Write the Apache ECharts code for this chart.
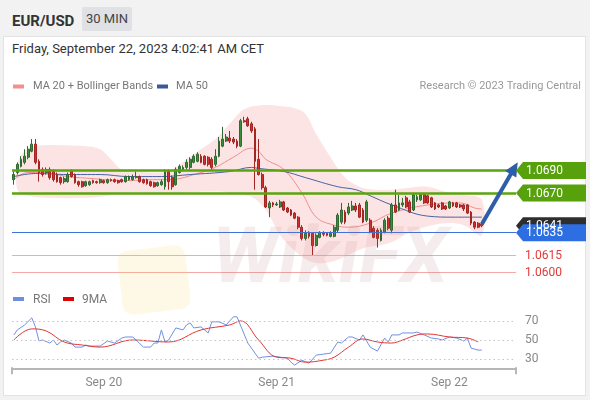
<!DOCTYPE html>
<html>
<head>
<meta charset="utf-8">
<script src="https://cdn.jsdelivr.net/npm/echarts@6/dist/echarts.min.js"></script>
<style>
  html,body{margin:0;padding:0;}
  body{width:590px;height:400px;overflow:hidden;position:relative;background:#f2f2f2;font-family:Roboto,'Liberation Sans',Arial,sans-serif;}
  #card{position:absolute;left:3px;top:36px;width:583px;height:360px;background:#fff;border:1px solid #e4e4e4;box-sizing:border-box;}
  #pair{position:absolute;left:12px;top:11px;font-size:15px;font-weight:bold;color:#333;line-height:20px;}
  #tf{position:absolute;left:82px;top:7px;width:50px;height:24px;background:#dfe1e4;color:#444;font-size:13px;line-height:24px;text-align:center;border-radius:2px;}
  #date{position:absolute;left:12px;top:40px;font-size:13px;color:#333;line-height:18px;}
  #chart{position:absolute;left:0;top:0;width:590px;height:400px;}
</style>
</head>
<body>
<div id="card"></div>
<div id="pair">EUR/USD</div>
<div id="tf">30 MIN</div>
<div id="date">Friday, September 22, 2023 4:02:41 AM CET</div>
<div id="chart"></div>
<script>
// ---------- data ----------
const startTime = Date.UTC(2023, 8, 19, 11, 30);
const slotCount = 140;
const categories = [];
for (let i = 0; i < slotCount; i++) {
  const d = new Date(startTime + i * 30 * 60000);
  categories.push(d.toISOString().slice(0, 16).replace('T', ' '));
}
const dayLabels = ['Sep 20', 'Sep 21', 'Sep 22'];
const dayLabelIndex = [25, 73, 121];

// [open, close, low, high]
const ohlc = [
[1.06819,1.06864,1.06774,1.06891],[1.06882,1.06954,1.06864,1.06972],[1.06936,1.06999,1.06927,1.07026],[1.06972,1.07026,1.06954,1.07088],
[1.07017,1.07088,1.06999,1.07115],[1.07070,1.07133,1.07061,1.07178],[1.07133,1.06972,1.06954,1.07178],[1.06981,1.06882,1.06801,1.06999],
[1.06909,1.06864,1.06846,1.06927],[1.06882,1.06909,1.06864,1.06927],[1.06909,1.06837,1.06819,1.06927],[1.06891,1.06819,1.06801,1.06909],
[1.06864,1.06801,1.06792,1.06882],[1.06837,1.06792,1.06774,1.06846],[1.06801,1.06828,1.06783,1.06846],[1.06801,1.06864,1.06792,1.06882],
[1.06891,1.06846,1.06837,1.06909],[1.06864,1.06792,1.06783,1.06873],[1.06801,1.06774,1.06756,1.06810],[1.06801,1.06756,1.06748,1.06810],
[1.06765,1.06801,1.06756,1.06810],[1.06774,1.06801,1.06765,1.06810],[1.06810,1.06792,1.06783,1.06819],[1.06801,1.06792,1.06783,1.06810],
[1.06792,1.06819,1.06783,1.06828],[1.06810,1.06792,1.06783,1.06819],[1.06792,1.06819,1.06783,1.06828],[1.06819,1.06810,1.06801,1.06828],
[1.06819,1.06801,1.06792,1.06828],[1.06810,1.06792,1.06783,1.06819],[1.06819,1.06801,1.06792,1.06828],[1.06801,1.06846,1.06792,1.06855],
[1.06819,1.06846,1.06810,1.06855],[1.06819,1.06846,1.06810,1.06864],[1.06837,1.06846,1.06828,1.06891],[1.06846,1.06801,1.06792,1.06855],
[1.06819,1.06792,1.06783,1.06828],[1.06819,1.06783,1.06774,1.06828],[1.06801,1.06765,1.06756,1.06810],[1.06792,1.06756,1.06748,1.06801],
[1.06765,1.06792,1.06756,1.06801],[1.06774,1.06801,1.06765,1.06819],[1.06756,1.06891,1.06730,1.06909],[1.06891,1.06801,1.06730,1.06909],
[1.06837,1.06756,1.06730,1.06855],[1.06774,1.06909,1.06765,1.06927],[1.06882,1.06936,1.06873,1.06954],[1.06909,1.06927,1.06891,1.06945],
[1.06927,1.06972,1.06909,1.06999],[1.06927,1.06999,1.06909,1.07017],[1.06972,1.07026,1.06963,1.07044],[1.06981,1.07044,1.06972,1.07061],
[1.07026,1.06972,1.06963,1.07044],[1.07026,1.06954,1.06945,1.07035],[1.07017,1.06954,1.06936,1.07026],[1.06999,1.06927,1.06909,1.07017],
[1.06954,1.07026,1.06936,1.07088],[1.07026,1.07160,1.07017,1.07196],[1.07115,1.07178,1.07106,1.07286],[1.07160,1.07196,1.07151,1.07223],
[1.07187,1.07160,1.07142,1.07250],[1.07178,1.07151,1.07133,1.07196],[1.07160,1.07115,1.07097,1.07178],[1.07115,1.07340,1.07106,1.07357],
[1.07340,1.07331,1.07322,1.07375],[1.07357,1.07295,1.07286,1.07375],[1.07313,1.07250,1.07232,1.07331],[1.07268,1.06981,1.06730,1.07286],
[1.06999,1.06864,1.06855,1.07178],[1.06864,1.06748,1.06730,1.06882],[1.06748,1.06577,1.06568,1.06765],[1.06568,1.06613,1.06487,1.06631],
[1.06613,1.06595,1.06577,1.06622],[1.06595,1.06604,1.06586,1.06622],[1.06577,1.06622,1.06568,1.06640],[1.06622,1.06550,1.06541,1.06631],
[1.06568,1.06532,1.06523,1.06577],[1.06550,1.06505,1.06496,1.06559],[1.06523,1.06478,1.06469,1.06532],[1.06487,1.06398,1.06380,1.06496],
[1.06398,1.06299,1.06281,1.06416],[1.06299,1.06344,1.06281,1.06371],[1.06353,1.06317,1.06299,1.06362],[1.06344,1.06236,1.06147,1.06353],
[1.06236,1.06326,1.06227,1.06344],[1.06308,1.06353,1.06299,1.06362],[1.06344,1.06335,1.06317,1.06362],[1.06344,1.06326,1.06317,1.06353],
[1.06317,1.06344,1.06308,1.06362],[1.06317,1.06398,1.06308,1.06416],[1.06371,1.06505,1.06353,1.06523],[1.06443,1.06550,1.06425,1.06613],
[1.06532,1.06443,1.06425,1.06550],[1.06523,1.06577,1.06505,1.06613],[1.06550,1.06586,1.06541,1.06631],[1.06586,1.06550,1.06532,1.06613],
[1.06595,1.06487,1.06478,1.06613],[1.06550,1.06443,1.06434,1.06568],[1.06460,1.06622,1.06443,1.06640],[1.06460,1.06353,1.06344,1.06478],
[1.06389,1.06308,1.06299,1.06407],[1.06371,1.06299,1.06218,1.06389],[1.06281,1.06371,1.06272,1.06389],[1.06353,1.06460,1.06344,1.06478],
[1.06478,1.06389,1.06371,1.06496],[1.06371,1.06595,1.06344,1.06613],[1.06595,1.06532,1.06523,1.06730],[1.06550,1.06613,1.06541,1.06685],
[1.06595,1.06613,1.06577,1.06658],[1.06658,1.06577,1.06568,1.06676],[1.06622,1.06532,1.06523,1.06640],[1.06550,1.06685,1.06541,1.06694],
[1.06640,1.06667,1.06622,1.06685],[1.06640,1.06685,1.06631,1.06694],[1.06685,1.06613,1.06604,1.06694],[1.06676,1.06613,1.06604,1.06685],
[1.06658,1.06577,1.06568,1.06667],[1.06613,1.06559,1.06550,1.06622],[1.06595,1.06577,1.06568,1.06604],[1.06613,1.06559,1.06550,1.06622],
[1.06586,1.06559,1.06550,1.06595],[1.06568,1.06622,1.06559,1.06631],[1.06613,1.06586,1.06577,1.06622],[1.06613,1.06577,1.06568,1.06622],
[1.06595,1.06577,1.06568,1.06604],[1.06595,1.06559,1.06541,1.06604],[1.06595,1.06523,1.06514,1.06604],[1.06532,1.06434,1.06416,1.06541],
[1.06443,1.06398,1.06380,1.06452],[1.06434,1.06398,1.06389,1.06443],[1.06425,1.06410,1.06398,1.06434]
];

const ma20 = [[0,1.06819],[4,1.06882],[8,1.06882],[15,1.06846],[22,1.06828],[30,1.06810],[40,1.06819],[43,1.06819],[52,1.06882],[56,1.06927],[61,1.07017],[66,1.07097],[68,1.07070],[70,1.06999],[75,1.06909],[80,1.06703],[84,1.06487],[89,1.06416],[93,1.06398],[99,1.06434],[105,1.06523],[115,1.06595],[124,1.06613],[128,1.06568],[130,1.06559]];
const ma50 = [[0,1.06846],[6,1.06873],[15,1.06864],[24,1.06864],[32,1.06846],[41,1.06846],[49,1.06864],[60,1.06891],[66,1.06927],[68,1.06918],[75,1.06891],[81,1.06837],[90,1.06756],[95,1.06730],[99,1.06676],[105,1.06595],[115,1.06496],[122,1.06487],[130,1.06487]];
const bbUpper = [[1,1.06954],[3,1.07070],[6,1.07115],[12,1.07124],[20,1.07115],[24,1.07088],[27,1.06999],[30,1.06909],[35,1.06891],[40,1.06882],[44,1.06909],[48,1.06999],[52,1.07088],[56,1.07178],[60,1.07313],[63,1.07420],[66,1.07465],[70,1.07480],[74,1.07470],[78,1.07450],[81,1.07400],[84,1.07223],[88,1.07017],[92,1.06837],[96,1.06756],[100,1.06730],[105,1.06730],[110,1.06748],[115,1.06756],[120,1.06712],[125,1.06685],[130,1.06640]];
const bbLower = [[1,1.06730],[4,1.06676],[10,1.06658],[20,1.06658],[26,1.06676],[30,1.06703],[40,1.06703],[46,1.06703],[52,1.06712],[58,1.06712],[62,1.06685],[66,1.06667],[70,1.06550],[74,1.06326],[78,1.06190],[82,1.06100],[86,1.06080],[90,1.06110],[94,1.06170],[98,1.06220],[102,1.06240],[106,1.06281],[110,1.06353],[115,1.06407],[120,1.06434],[125,1.06416],[130,1.06326]];

const rsi = [[0,55.4],[1,60.7],[3,66],[5,73.5],[6,64],[7,49],[8,50],[10,46.8],[11,50],[12,44.7],[13,48],[14,50],[16,46.8],[17,42.5],[19,42.5],[20,44.7],[21,43.6],[24,43.6],[26,48.9],[28,46.8],[30,52.1],[31,53.2],[33,53.2],[34,50],[36,42.5],[38,42.5],[39,46.8],[40,46.8],[41,60.7],[42,47.9],[43,50],[45,62.8],[47,60.7],[48,66],[49,68.2],[50,62.8],[52,63.9],[54,57.5],[55,69.3],[57,69.3],[59,66],[61,74.6],[62,74.6],[65,46.8],[68,30.7],[69,31.8],[72,32.9],[76,30.7],[77,26.5],[78,23.3],[80,28.6],[82,25.4],[84,34],[86,35],[88,36.1],[90,47.9],[91,46.8],[93,53.2],[94,53.2],[96,50],[97,55.4],[99,42.5],[101,38.2],[103,52.1],[104,47.9],[105,55.4],[107,55.4],[108,57.5],[111,57.5],[112,58.5],[114,55.4],[116,52.1],[118,51.1],[119,50],[121,53.2],[123,52.1],[125,48.9],[126,52.1],[127,41.4],[129,39.3],[130,39.3]];
const rsiMa9 = [[0,50],[5,61.8],[9,59.6],[14,47.9],[19,44.7],[24,42.5],[33,50],[43,47.9],[52,60.7],[60,66],[63,70.3],[68,50],[73,31.8],[77,30.7],[81,26.5],[86,28.6],[89,31.8],[93,42.5],[97,51.1],[101,47.9],[105,46.8],[108,50],[112,55.4],[115,56.4],[121,53.2],[126,52.1],[129,47.9]];
const rsiLevels = [70, 50, 30];

const resistance = [1.0690, 1.0670];
const pivot = 1.0635;
const support = [1.0615, 1.0600];
const lastPrice = 1.0641;
const lastMa50 = 1.06487;
const lastRsi = 39.3;
const arrowFrom = [130, 1.06425];
const arrowTo = [139, 1.0692];
const lastIndex = 130;

// ---------- chart ----------
const FONT = 'Roboto, "Liberation Sans", Arial, sans-serif';
const chart = echarts.init(document.getElementById('chart'), null, {renderer: 'canvas'});
const GL = 12, GW = 504, GR = GL + GW;
const X1 = slotCount - 0.5;

const levelLines = [];
resistance.forEach(v => levelLines.push({yAxis: v, lineStyle: {color: '#5aa50f', width: 2.5, type: 'solid'}}));
levelLines.push({yAxis: pivot, lineStyle: {color: '#3f72d8', width: 1.2, type: 'solid'}});
support.forEach(v => levelLines.push({yAxis: v, lineStyle: {color: '#f4a8a8', width: 1, type: 'solid'}}));
levelLines.push([{coord: [lastIndex + 0.6, lastPrice], lineStyle: {color: '#555', width: 1, type: [1.5, 2.5]}}, {coord: [X1, lastPrice]}]);
levelLines.push([{coord: [lastIndex, lastMa50], lineStyle: {color: '#666', width: 1, type: [1.5, 2.5]}}, {coord: [X1, lastMa50]}]);
levelLines.push([{coord: arrowFrom, symbol: 'none', lineStyle: {color: '#2f5ea8', width: 4, type: 'solid'}}, {coord: arrowTo, symbol: 'triangle', symbolSize: [13, 14]}]);

const rsiLines = rsiLevels.map(v => ({yAxis: v, lineStyle: {color: '#c4c4c4', width: 1, type: [1.5, 3]}}));
rsiLines.push([{coord: [lastIndex, lastRsi], lineStyle: {color: '#aaa', width: 1, type: [1.5, 2.5]}}, {coord: [X1, lastRsi]}]);

const option = {
  animation: false,
  textStyle: {fontFamily: FONT},
  grid: [
    {left: GL, top: 97, width: GW, height: 186.5},
    {left: GL, top: 302.3, width: GW, height: 66}
  ],
  xAxis: [
    {type: 'category', gridIndex: 0, data: categories, boundaryGap: true, show: false},
    {type: 'category', gridIndex: 1, data: categories, boundaryGap: true,
     axisLine: {show: true, lineStyle: {color: '#b7b7b7', width: 2}},
     axisTick: {show: false}, splitLine: {show: false},
     axisLabel: {interval: (i) => dayLabelIndex.includes(i), formatter: (v, i) => dayLabels[dayLabelIndex.indexOf(i)] || '', color: '#888', fontSize: 12, margin: 9, fontFamily: FONT}}
  ],
  yAxis: [
    {type: 'value', gridIndex: 0, min: 1.0590, max: 1.0755, show: false, splitLine: {show: false}},
    {type: 'value', gridIndex: 1, min: 20, max: 90, interval: 10, position: 'right',
     axisLine: {show: false}, axisTick: {show: false}, splitLine: {show: false},
     axisLabel: {formatter: (v) => rsiLevels.includes(v) ? String(v) : '', color: '#888', fontSize: 12, margin: 9, fontFamily: FONT}}
  ],
  series: [
    {type: 'custom', name: 'BB', xAxisIndex: 0, yAxisIndex: 0, z: 1, silent: true, clip: true,
     data: [[0, bbUpper[0][1]]],
     renderItem: (params, api) => {
       const pts = bbUpper.map(p => api.coord(p)).concat(bbLower.slice().reverse().map(p => api.coord(p)));
       return {type: 'polygon', shape: {points: pts, smooth: 0.35}, style: {fill: 'rgba(250,180,180,0.36)'}};
     }},
    {type: 'line', name: 'MA 20', xAxisIndex: 0, yAxisIndex: 0, z: 2, data: ma20, smooth: 0.4, showSymbol: false,
     lineStyle: {color: '#f08c8c', width: 1}, silent: true},
    {type: 'line', name: 'MA 50', xAxisIndex: 0, yAxisIndex: 0, z: 2, data: ma50, smooth: 0.4, showSymbol: false,
     lineStyle: {color: '#4662a3', width: 1}, silent: true},
    {type: 'candlestick', name: 'EUR/USD', xAxisIndex: 0, yAxisIndex: 0, z: 3, data: ohlc, barWidth: 2.4,
     itemStyle: {color: '#3d8c3d', color0: '#d0302e', borderColor: '#2f6a32', borderColor0: '#a52522', borderWidth: 1},
     markLine: {silent: true, symbol: ['none', 'none'], label: {show: false}, animation: false, precision: 5, data: levelLines}},
    {type: 'line', name: 'RSI', xAxisIndex: 1, yAxisIndex: 1, z: 3, data: rsi, showSymbol: false,
     lineStyle: {color: '#7090e0', width: 1}, silent: true,
     markLine: {silent: true, symbol: ['none', 'none'], label: {show: false}, animation: false, precision: 2, data: rsiLines}},
    {type: 'line', name: '9MA', xAxisIndex: 1, yAxisIndex: 1, z: 4, data: rsiMa9, smooth: 0.4, showSymbol: false,
     lineStyle: {color: '#e33434', width: 1}, silent: true}
  ]
};
chart.setOption(option);

// ---------- graphics (legends, tags, watermark) ----------
const g = [];
const txt = (x, y, text, color, size, align) => ({type: 'text', z: 20, silent: true,
  style: {x, y, text, fill: color, fontSize: size, fontFamily: FONT, verticalAlign: 'middle', align: align || 'left'}});
// watermark
g.push({type: 'rect', z: 9, silent: true, shape: {x: 120, y: 248, width: 68, height: 64, r: 10}, rotation: 0.12, originX: 154, originY: 280,
  style: {fill: 'rgba(250,210,100,0.16)'}});
g.push({type: 'text', z: 9, silent: true, style: {x: 212, y: 262, text: 'WikiFX', fill: 'rgba(170,110,110,0.12)', fontSize: 78, fontWeight: 'bold', fontStyle: 'italic', fontFamily: FONT, verticalAlign: 'middle'}});
// legends
g.push({type: 'rect', z: 20, silent: true, shape: {x: 13, y: 84.5, width: 11, height: 4}, style: {fill: '#f48f8f'}});
g.push(txt(33, 86.5, 'MA 20 + Bollinger Bands', '#777', 11));
g.push({type: 'rect', z: 20, silent: true, shape: {x: 157, y: 84.5, width: 11, height: 4}, style: {fill: '#3b5a9a'}});
g.push(txt(176, 86.5, 'MA 50', '#777', 11));
g.push(txt(581, 86.5, 'Research © 2023 Trading Central', '#999', 11, 'right'));
g.push({type: 'rect', z: 20, silent: true, shape: {x: 13, y: 297, width: 11, height: 4}, style: {fill: '#6f8ee0'}});
g.push(txt(33, 299.5, 'RSI', '#777', 12));
g.push({type: 'rect', z: 20, silent: true, shape: {x: 63, y: 297, width: 11, height: 4}, style: {fill: '#e00000'}});
g.push(txt(82, 299.5, '9MA', '#777', 12));
// x axis end ticks
const axisY = chart.convertToPixel({yAxisIndex: 1}, 20);
[GL, GR].forEach(x => g.push({type: 'line', z: 20, silent: true, shape: {x1: x, y1: axisY - 1, x2: x, y2: axisY + 6}, style: {stroke: '#b7b7b7', lineWidth: 2}}));
// right tags
const tag = (v, bg, text) => {
  const y = chart.convertToPixel({yAxisIndex: 0}, v);
  g.push({type: 'polygon', z: 21, silent: true, shape: {points: [[GR, y], [GR + 7, y - 8.5], [586, y - 8.5], [586, y + 8.5], [GR + 7, y + 8.5]]}, style: {fill: bg}});
  const t = txt(526, y + 0.5, text, '#fff', 12); t.z = 22;
  g.push(t);
};
resistance.forEach(v => tag(v, '#56a10c', v.toFixed(4)));
tag(lastPrice, '#2e2e2e', lastPrice.toFixed(4));
tag(pivot, '#2d6fe3', pivot.toFixed(4));
support.forEach(v => {
  const y = chart.convertToPixel({yAxisIndex: 0}, v);
  g.push(txt(525, y + 0.5, v.toFixed(4), '#e23a3a', 12));
});
chart.setOption({graphic: g});
</script>
</body>
</html>
